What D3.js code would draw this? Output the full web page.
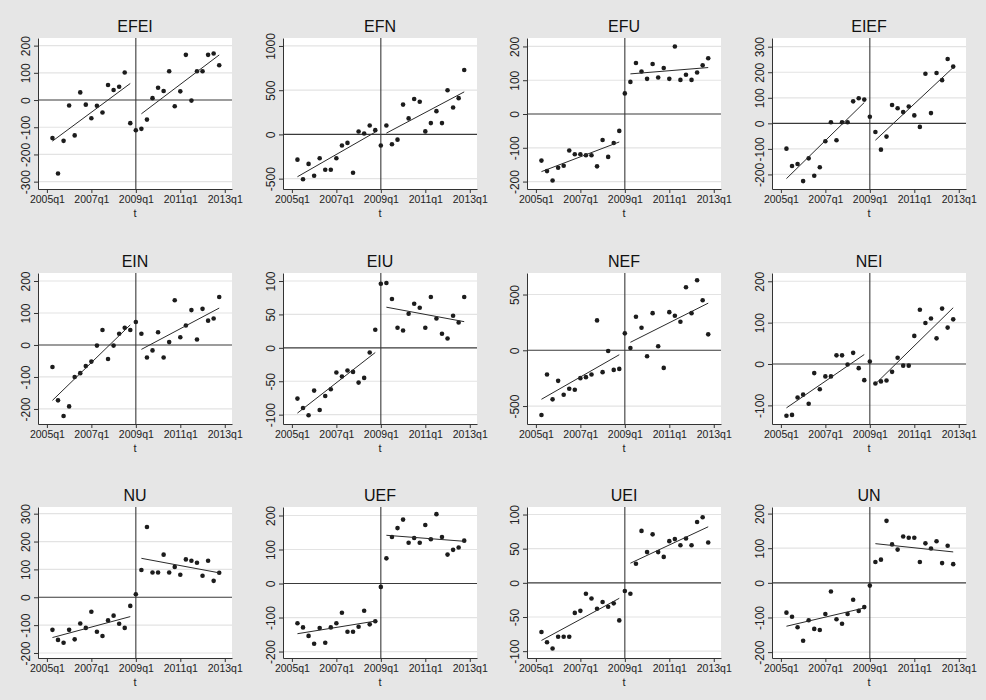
<!DOCTYPE html>
<html lang="en">
<head>
<meta charset="UTF-8">
<title>Panels</title>
<script src="https://d3js.org/d3.v7.min.js"></script>
<style>
  body { margin: 0; background: #e6e6e6; }
  svg { display: block; font-family: "Liberation Sans", Arial, sans-serif; }
</style>
</head>
<body>
<script>

    // quarters are counted from 2005q1 = 0; first observation is 2005q2
    var startQuarter = 1;
    var breakQuarter = 16;   // 2009q1
    var xTickValues = [0, 8, 16, 24, 32];
    var xTickLabels = ["2005q1", "2007q1", "2009q1", "2011q1", "2013q1"];

    var titles = ["EFEI", "EFN", "EFU", "EIEF", "EIN", "EIU", "NEF", "NEI", "NU", "UEF", "UEI", "UN"];

    var EFEI = [-140, -270, -150, -20, -130, 28, -17, -67, -21, -46, 55, 37, 49, 101, -85,
                -111, -106, -72, 7, 45, 33, 106, -23, 32, 166, -2, 106, 106, 166, 171, 128];
    var EFN = [-285, -507, -333, -467, -270, -400, -400, -270, -126, -96, -433, 33, 11, 100, 48,
               -126, 100, -111, -59, 337, 181, 400, 370, 34, 128, 263, 128, 500, 305, 410, 729];
    var EFU = [-138, -169, -197, -159, -153, -108, -119, -119, -122, -122, -155, -77, -127, -86, -50,
               61, 95, 151, 126, 104, 148, 108, 136, 104, 200, 101, 116, 101, 123, 144, 165];
    var EIEF = [-99, -167, -159, -226, -137, -205, -172, -70, 4, -66, 4, 4, 86, 98, 93,
                26, -34, -103, -52, 72, 59, 44, 66, 31, -14, 194, 40, 197, 169, 252, 222];
    var EIN = [-69, -173, -222, -192, -100, -88, -66, -52, -2, 47, -44, -2, 35, 54, 47,
               72, 35, -39, -17, 40, -39, 9, 140, 24, 61, 109, 17, 113, 76, 83, 150];
    var EIU = [-76, -90, -101, -64, -93, -72, -62, -37, -43, -34, -36, -52, -45, -7, 27,
               96, 97, 73, 30, 26, 51, 66, 60, 30, 76, 44, 21, 14, 48, 38, 76];
    var NEF = [-580, -217, -440, -274, -399, -345, -354, -250, -241, -217, 268, -196, -6, -176, -167,
               152, 21, 301, 202, -54, 333, 36, -158, 342, 310, 256, 565, 333, 628, 449, 143];
    var NEI = [-125, -123, -81, -74, -96, -22, -61, -30, -30, 21, 21, -1, 27, -10, -39,
               6, -47, -42, -40, -19, 15, -4, -4, 68, 131, 99, 110, 62, 134, 88, 108];
    var NU = [-117, -153, -163, -117, -151, -94, -110, -52, -124, -139, -83, -66, -95, -110, -31,
              11, 98, 252, 89, 89, 153, 89, 109, 81, 136, 131, 124, 77, 131, 59, 88];
    var UEF = [-117, -129, -154, -177, -131, -174, -129, -117, -86, -142, -142, -127, -80, -120, -111,
               -10, 74, 137, 163, 188, 120, 134, 120, 172, 130, 204, 137, 85, 99, 106, 126];
    var UEI = [-72, -87, -96, -79, -79, -79, -44, -41, -16, -23, -38, -28, -35, -30, -55,
               -12, -16, 28, 76, 45, 71, 45, 38, 61, 64, 55, 65, 55, 89, 96, 59];
    var UN = [-86, -98, -128, -167, -108, -133, -136, -90, -25, -105, -118, -90, -49, -81, -70,
              -8, 60, 67, 179, 111, 96, 134, 130, 130, 60, 114, 99, 120, 57, 107, 54];

    var series = [EFEI, EFN, EFU, EIEF, EIN, EIU, NEF, NEI, NU, UEF, UEI, UN];

    var yRanges = [[-327, 228], [-617, 1090], [-222, 225], [-257, 334],
                   [-247, 225], [-114, 112], [-661, 693], [-145, 220],
                   [-218, 324], [-219, 225], [-110, 111], [-217, 219]];

    var yTicks = [[-300, -200, -100, 0, 100, 200], [-500, 0, 500, 1000], [-200, -100, 0, 100, 200],
                  [-200, -100, 0, 100, 200, 300], [-200, -100, 0, 100, 200], [-100, -50, 0, 50, 100],
                  [-500, 0, 500], [-100, 0, 100, 200], [-200, -100, 0, 100, 200, 300],
                  [-200, -100, 0, 100, 200], [-100, -50, 0, 50, 100], [-200, -100, 0, 100, 200]];

    var width = 986;
    var height = 700;
    var colLeft = [38, 283, 527, 772];
    var rowTop = [38, 273, 507];
    var plotW = 194;
    var plotH = 151;

    var svg = d3.select("body").append("svg")
        .attr("width", width)
        .attr("height", height);

    svg.append("rect")
        .attr("width", width)
        .attr("height", height)
        .attr("fill", "#e6e6e6");

    var x = d3.scaleLinear()
        .domain([-1.6, 33.3])
        .range([0, plotW]);

    // least squares line over a slice of the points
    function fitLine(pts) {
        var mx = d3.mean(pts, function (p) { return p.q; });
        var my = d3.mean(pts, function (p) { return p.v; });
        var sxy = d3.sum(pts, function (p) { return (p.q - mx) * (p.v - my); });
        var sxx = d3.sum(pts, function (p) { return (p.q - mx) * (p.q - mx); });
        var b = sxy / sxx;
        var first = pts[0].q, last = pts[pts.length - 1].q;
        return [{ q: first, v: my + b * (first - mx) }, { q: last, v: my + b * (last - mx) }];
    }

    series.forEach(function (values, k) {
        var col = k % 4, row = Math.floor(k / 4);
        var g = svg.append("g")
            .attr("transform", "translate(" + colLeft[col] + "," + rowTop[row] + ")");

        var y = d3.scaleLinear()
            .domain(yRanges[k])
            .range([plotH, 0]);

        var pts = values.map(function (v, i) {
            return { q: startQuarter + i, v: v };
        });

        g.append("rect")
            .attr("width", plotW)
            .attr("height", plotH)
            .attr("fill", "#ffffff");

        g.selectAll(".grid")
            .data(yTicks[k].filter(function (t) { return t !== 0; }))
            .enter()
            .append("line")
            .attr("class", "grid")
            .attr("x1", 0)
            .attr("x2", plotW)
            .attr("y1", function (d) { return y(d); })
            .attr("y2", function (d) { return y(d); })
            .attr("stroke", "#e3e3e3")
            .attr("stroke-width", 1.2);

        // reference lines
        g.append("line")
            .attr("x1", 0).attr("x2", plotW)
            .attr("y1", y(0)).attr("y2", y(0))
            .attr("stroke", "#3a3a3a")
            .attr("stroke-width", 1.1);

        g.append("line")
            .attr("x1", x(breakQuarter)).attr("x2", x(breakQuarter))
            .attr("y1", 0).attr("y2", plotH)
            .attr("stroke", "#3a3a3a")
            .attr("stroke-width", 1.1);

        g.selectAll(".pt")
            .data(pts)
            .enter()
            .append("circle")
            .attr("class", "pt")
            .attr("cx", function (d) { return x(d.q); })
            .attr("cy", function (d) { return y(d.v); })
            .attr("r", 2.3)
            .attr("fill", "#1c1c1c");

        var before = pts.filter(function (p) { return p.q < breakQuarter; });
        var after = pts.filter(function (p) { return p.q > breakQuarter; });
        var line = d3.line()
            .x(function (d) { return x(d.q); })
            .y(function (d) { return y(d.v); });

        [before, after].forEach(function (seg) {
            g.append("path")
                .attr("d", line(fitLine(seg)))
                .attr("fill", "none")
                .attr("stroke", "#2a2a2a")
                .attr("stroke-width", 1);
        });

        var yAxis = g.append("g")
            .call(d3.axisLeft(y).tickValues(yTicks[k]).tickSize(4).tickSizeOuter(0)
                .tickFormat(function (d) { return String(d); }));
        yAxis.selectAll("text")
            .attr("transform", "rotate(-90)")
            .attr("x", 0)
            .attr("y", -8)
            .attr("dy", 0)
            .attr("text-anchor", "middle")
            .attr("font-size", "12px")
            .attr("fill", "#222");

        var xAxis = g.append("g")
            .attr("transform", "translate(0," + plotH + ")")
            .call(d3.axisBottom(x).tickValues(xTickValues).tickSize(4).tickSizeOuter(0)
                .tickFormat(function (d, i) { return xTickLabels[i]; }));
        xAxis.selectAll("text")
            .attr("font-size", "10.5px")
            .attr("fill", "#222");

        [yAxis, xAxis].forEach(function (a) {
            a.select(".domain").attr("stroke", "#333");
            a.selectAll(".tick line").attr("stroke", "#333");
        });

        g.append("text")
            .attr("x", plotW / 2)
            .attr("y", plotH + 28)
            .attr("text-anchor", "middle")
            .attr("font-size", "11px")
            .attr("fill", "#222")
            .text("t");

        g.append("text")
            .attr("x", plotW / 2)
            .attr("y", -6)
            .attr("text-anchor", "middle")
            .attr("font-size", "16px")
            .attr("fill", "#111")
            .text(titles[k]);
    });

</script>
</body>
</html>
